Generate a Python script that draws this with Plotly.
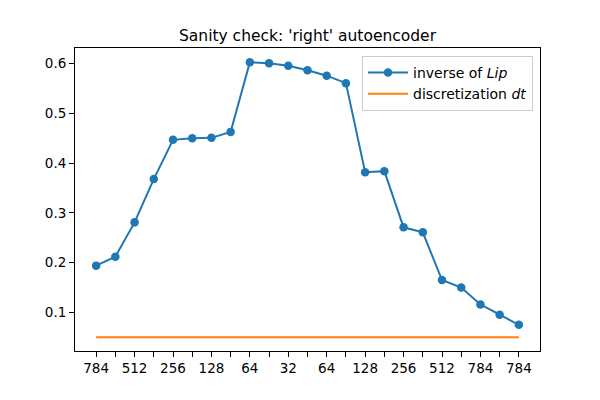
import plotly.graph_objects as go

layer_labels = ["784", "", "512", "", "256", "", "128", "", "64", "", "32", "",
                "64", "", "128", "", "256", "", "512", "", "784", "", "784"]
inverse_lip = [0.194, 0.212, 0.281, 0.368, 0.447, 0.450, 0.451, 0.463,
               0.603, 0.601, 0.596, 0.587, 0.576, 0.561, 0.382, 0.384,
               0.271, 0.261, 0.165, 0.150, 0.116, 0.095, 0.075]
dt_value = 0.05

x = list(range(len(inverse_lip)))

fig = go.Figure()
fig.add_trace(go.Scatter(
    x=x, y=inverse_lip, mode="lines+markers",
    name="inverse of <i>Lip</i>",
    line=dict(color="#1f77b4", width=2),
    marker=dict(color="#1f77b4", size=8.5),
))
fig.add_trace(go.Scatter(
    x=x, y=[dt_value] * len(x), mode="lines",
    name="discretization <i>dt</i>",
    line=dict(color="#ff7f0e", width=2),
))

# The page body has an 8px default margin; compensate so the plot area lands
# where the reference has it.
fig.update_layout(
    width=592, height=392,
    margin=dict(l=67, r=60, t=40, b=49),
    paper_bgcolor="white", plot_bgcolor="white",
    font=dict(family="DejaVu Sans", size=13.5, color="black"),
    title=dict(text="Sanity check: 'right' autoencoder", x=0.5, xref="paper",
               xanchor="center", y=1 - 28 / 392, yanchor="middle",
               font=dict(size=15.5)),
    showlegend=True,
    legend=dict(x=0.985, y=0.974, xanchor="right", yanchor="top",
                bordercolor="#cccccc", borderwidth=1, bgcolor="rgba(255,255,255,0.8)",
                font=dict(size=14), tracegroupgap=0, itemwidth=40),
)
fig.update_xaxes(
    range=[-1.1, 23.1], tickmode="array", tickvals=x, ticktext=layer_labels,
    showgrid=False, zeroline=False, showline=True, linecolor="black", linewidth=1,
    mirror=True, ticks="outside", ticklen=5, tickcolor="black", tickangle=0,
)
fig.update_yaxes(
    range=[0.0223, 0.6317], tickvals=[0.1, 0.2, 0.3, 0.4, 0.5, 0.6],
    ticktext=["0.1", "0.2", "0.3", "0.4", "0.5", "0.6"],
    showgrid=False, zeroline=False, showline=True, linecolor="black", linewidth=1,
    mirror=True, ticks="outside", ticklen=5, tickcolor="black",
)

fig.write_html("out.html")
